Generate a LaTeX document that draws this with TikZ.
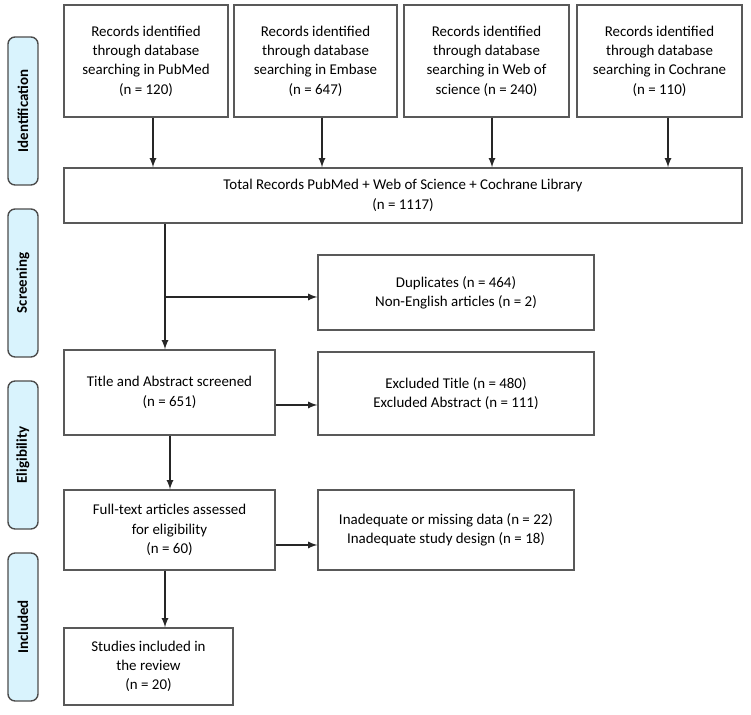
\documentclass[tikz,border=0pt]{standalone}
\usepackage{fontspec}
\setmainfont{Carlito}
\usepackage{tikz}
\usetikzlibrary{positioning,calc}
\tikzset{
  box/.style={draw=black!65,thick,fill=white,align=center,inner sep=2pt,font=\fontsize{8.5}{11}\selectfont},
  phase/.style={draw=black!70,thick,rounded corners=4pt,fill=cyan!15,minimum width=2.96cm,minimum height=0.6cm,
    rotate=90,font=\bfseries\fontsize{8.5}{10}\selectfont},
  arr/.style={->,>=latex,thick,black!85}
}
\begin{document}
\begin{tikzpicture}[x=0.02cm,y=-0.02cm]
  \useasboundingbox (0,0) rectangle (751,715);
  % phases
  \node[phase] (ident) at (23,111) {Identification};
  \node[phase] (screen) at (23,283) {Screening};
  \node[phase] (elig) at (23,455) {Eligibility};
  \node[phase] (incl) at (23,627) {Included};
  % sources
  \node[box,minimum width=3.28cm,minimum height=2.24cm] (pubmed) at (146,61) {Records identified\\through database\\searching in PubMed\\(n = 120)};
  \node[box,minimum width=3.26cm,minimum height=2.24cm] (embase) at (315.5,61) {Records identified\\through database\\searching in Embase\\(n = 647)};
  \node[box,minimum width=3.30cm,minimum height=2.24cm] (wos) at (486.5,61) {Records identified\\through database\\searching in Web of\\science (n = 240)};
  \node[box,minimum width=3.30cm,minimum height=2.24cm] (cochrane) at (659.5,61) {Records identified\\through database\\searching in Cochrane\\(n = 110)};
  \node[box,minimum width=13.56cm,minimum height=1.10cm] (total) at (403,195.5) {Total Records PubMed + Web of Science + Cochrane Library\\(n = 1117)};
  \foreach \src/\xx in {pubmed/153,embase/322,wos/492,cochrane/668}
    \draw[arr] (\src.south -| \xx,0) -- (total.north -| \xx,0);
  % screening
  \node[box,minimum width=5.52cm,minimum height=1.50cm] (dupl) at (456,292.5) {Duplicates (n = 464)\\Non-English articles (n = 2)};
  \node[box,minimum width=4.22cm,minimum height=1.70cm,align=center] (title) at (169.5,392.5) {Title and Abstract screened\\(n = 651)};
  \coordinate (split) at (165,297);
  \draw[thick,black!85] (total.south -| split) -- (split);
  \draw[arr] (split) -- (title.north -| split);
  \draw[arr] (split) -- (dupl.west |- split);
  % eligibility
  \node[box,minimum width=5.52cm,minimum height=1.66cm] (excl) at (456,393.5) {Excluded Title (n = 480)\\Excluded Abstract (n = 111)};
  \draw[arr] (title.east |- 0,405) -- (excl.west |- 0,405);
  \node[box,minimum width=4.22cm,minimum height=1.60cm] (full) at (169.5,530) {Full-text articles assessed\\for eligibility\\(n = 60)};
  \draw[arr] (title.south -| 170,0) -- (full.north -| 170,0);
  \node[box,minimum width=5.12cm,minimum height=1.60cm] (inad) at (446,530) {Inadequate or missing data (n = 22)\\Inadequate study design (n = 18)};
  \draw[arr] (full.east |- 0,545) -- (inad.west |- 0,545);
  % included
  \node[box,minimum width=3.38cm,minimum height=1.54cm] (studies) at (148.5,666.5) {Studies included in\\the review\\(n = 20)};
  \draw[arr] (full.south -| 165,0) -- (studies.north -| 165,0);
\end{tikzpicture}
\end{document}
